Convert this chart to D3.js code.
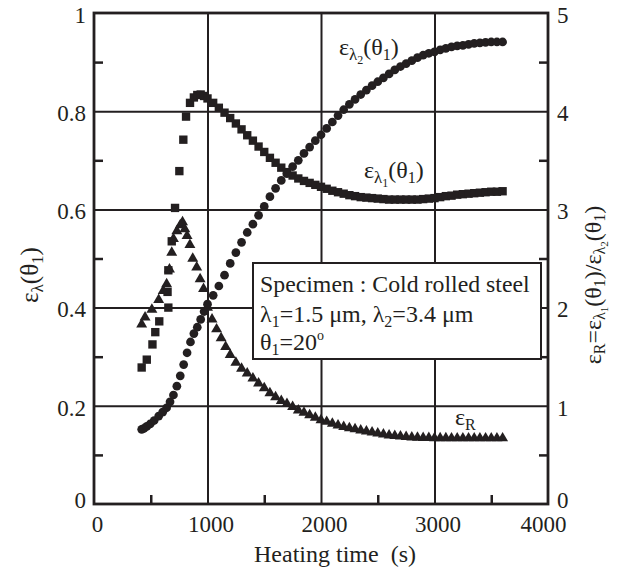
<!DOCTYPE html>
<html><head><meta charset="utf-8">
<script src="https://cdn.jsdelivr.net/npm/d3@7"></script>
<style>body{margin:0;background:#fff}svg{display:block}</style>
</head><body>
<svg id="c" width="617" height="574"></svg>
<script>
// ---- data ----
const xTicks = [0, 1000, 2000, 3000, 4000];
const leftTicks = [0, 0.2, 0.4, 0.6, 0.8, 1];
const leftTickLabels = ["0", "0.2", "0.4", "0.6", "0.8", "1"];
const rightTicks = [0, 1, 2, 3, 4, 5];
// eps_lambda1(theta1), squares, left axis
const sqT = [420,465,515,540,575,655,648,655,685,714,752,787,811,846,880,910,940,970,1000,
 1050,1100,1150,1200,1250,1300,1350,1400,1450,1500,1550,1600,1650,1700,1750,1800,1850,1900,1950,2000,
 2050,2100,2150,2200,2250,2300,2350,2400,2450,2500,2550,2600,2650,2700,2750,2800,2850,2900,2950,3000,
 3050,3100,3150,3200,3250,3300,3350,3400,3450,3500,3550,3600];
const sqV = [0.278,0.294,0.325,0.350,0.372,0.400,0.432,0.476,0.535,0.603,0.678,0.742,0.789,0.817,0.828,0.833,0.834,0.831,0.826,
 0.817,0.807,0.797,0.786,0.775,0.763,0.751,0.740,0.728,0.717,0.705,0.695,0.685,0.676,0.669,0.663,0.658,0.654,0.650,0.646,
 0.642,0.638,0.635,0.632,0.629,0.627,0.625,0.624,0.623,0.622,0.621,0.620,0.620,0.620,0.620,0.620,0.620,0.621,0.622,0.623,
 0.625,0.627,0.628,0.630,0.631,0.632,0.633,0.634,0.635,0.636,0.636,0.637];
// eps_lambda2(theta1), circles, left axis
const ciT = [420,440,465,495,530,570,605,640,670,700,730,760,790,820,850,880,910,940,970,1000,
 1050,1100,1150,1200,1250,1300,1350,1400,1450,1500,1550,1600,1650,1700,1750,1800,1850,1900,1950,2000,
 2050,2100,2150,2200,2250,2300,2350,2400,2450,2500,2550,2600,2650,2700,2750,2800,2850,2900,2950,3000,
 3050,3100,3150,3200,3250,3300,3350,3400,3450,3500,3550,3600];
const ciV = [0.152,0.154,0.158,0.163,0.170,0.179,0.187,0.196,0.208,0.222,0.240,0.261,0.284,0.308,0.330,0.347,0.360,0.376,0.392,0.407,
 0.425,0.444,0.466,0.490,0.512,0.533,0.553,0.570,0.588,0.606,0.626,0.643,0.659,0.673,0.687,0.700,0.714,0.727,0.740,0.752,
 0.765,0.778,0.791,0.803,0.814,0.824,0.834,0.843,0.852,0.860,0.868,0.876,0.884,0.891,0.897,0.903,0.909,0.914,0.918,0.921,
 0.925,0.928,0.931,0.933,0.934,0.936,0.938,0.939,0.940,0.941,0.941,0.941];
// eps_R, triangles, right axis
const trT = [420,450,510,570,610,640,665,685,700,730,760,780,800,820,845,870,905,935,965,1000,
 1040,1080,1120,1160,1200,
 1250,1300,1350,1400,1450,1500,1550,1600,1650,1700,1750,1800,1850,1900,1950,2000,
 2050,2100,2150,2200,2250,2300,2350,2400,2450,2500,2550,2600,2650,2700,2750,2800,2850,2900,2950,3000,
 3050,3100,3150,3200,3250,3300,3350,3400,3450,3500,3550,3600];
const trV = [1.83,1.90,1.98,2.08,2.17,2.24,2.39,2.56,2.70,2.78,2.84,2.87,2.80,2.73,2.64,2.50,2.41,2.29,2.19,2.00,
 1.88,1.78,1.69,1.60,1.52,
 1.44,1.38,1.33,1.28,1.23,1.18,1.13,1.09,1.05,1.02,0.99,0.955,0.93,0.905,0.88,0.855,
 0.838,0.82,0.80,0.785,0.773,0.762,0.75,0.74,0.73,0.72,0.71,0.70,0.695,0.69,0.685,0.68,0.677,0.675,0.673,0.672,
 0.671,0.671,0.670,0.670,0.670,0.670,0.670,0.670,0.670,0.670,0.670,0.670];

// ---- drawing ----
const INK = "#231f20";
const FONT = '"Liberation Serif"';
const svg = d3.select("#c");
const L = 94, R = 548, T = 13, B = 504;
const x = d3.scaleLinear([0, 4000], [L, R]);
const yL = d3.scaleLinear([0, 1], [B, T]);
const yR = d3.scaleLinear([0, 5], [B, T]);

// gridlines
const grid = svg.append("g");
grid.append("g").attr("transform", `translate(0,${B})`)
  .call(d3.axisBottom(x).tickValues([1000, 2000, 3000]).tickSize(-(B - T)).tickFormat(""));
grid.append("g").attr("transform", `translate(${L},0)`)
  .call(d3.axisLeft(yL).tickValues([0.2, 0.4, 0.6, 0.8]).tickSize(-(R - L)).tickFormat(""));
grid.selectAll(".domain").remove();
grid.selectAll("line").attr("stroke", INK).attr("stroke-width", 2);

// minor inward ticks
const minor = svg.append("g");
minor.append("g").attr("transform", `translate(0,${B})`)
  .call(d3.axisBottom(x).tickValues([500, 1500, 2500, 3500]).tickSize(-9).tickFormat(""));
minor.append("g").attr("transform", `translate(${L},0)`)
  .call(d3.axisLeft(yL).tickValues([0.1, 0.3, 0.5, 0.7, 0.9]).tickSize(-9).tickFormat(""));
minor.append("g").attr("transform", `translate(${R},0)`)
  .call(d3.axisRight(yR).tickValues([0.5, 1.5, 2.5, 3.5, 4.5]).tickSize(-9).tickFormat(""));
minor.selectAll(".domain").remove();
minor.selectAll("line").attr("stroke", INK).attr("stroke-width", 2.5);

// tick labels via axes
const FS = 23;
const ax = svg.append("g").attr("transform", `translate(3,${B})`)
  .call(d3.axisBottom(x).tickValues(xTicks).tickSize(0).tickPadding(12).tickFormat(d3.format("d")));
const ayl = svg.append("g").attr("transform", `translate(${L - 8},0)`)
  .call(d3.axisLeft(yL).tickValues(leftTicks).tickSize(0).tickPadding(0).tickFormat((d, i) => leftTickLabels[i]));
const ayr = svg.append("g").attr("transform", `translate(${R + 9},0)`)
  .call(d3.axisRight(yR).tickValues(rightTicks).tickSize(0).tickPadding(0).tickFormat(d3.format("d")));
[ax, ayl, ayr].forEach(g => {
  g.attr("font-family", null).attr("font-size", null);
  g.select(".domain").remove();
  g.selectAll("text").attr("font-family", FONT).attr("font-size", FS).attr("fill", INK);
});
ax.selectAll("text").attr("dx", d => d === 4000 ? -8 : 0);
ayl.selectAll("text").attr("dy", d => d === 0 ? "0.15em" : "0.4em");
ayr.selectAll("text").attr("dy", d => d === 0 ? "0.15em" : "0.4em");

// data markers
const markers = svg.append("g").attr("fill", INK);
const sq = d3.symbol(d3.symbolSquare, 70);
const ci = d3.symbol(d3.symbolCircle, 60);
const tr = d3.symbol(d3.symbolTriangle, 52);
markers.selectAll(".sq").data(sqT.map((t, i) => [t, sqV[i]])).join("path")
  .attr("d", sq).attr("transform", d => `translate(${x(d[0])},${yL(d[1])})`);
markers.selectAll(".ci").data(ciT.map((t, i) => [t, ciV[i]])).join("path")
  .attr("d", ci).attr("transform", d => `translate(${x(d[0])},${yL(d[1])})`);
markers.selectAll(".tr").data(trT.map((t, i) => [t, trV[i]])).join("path")
  .attr("d", tr).attr("transform", d => `translate(${x(d[0])},${yR(d[1])})`);

// frame
svg.append("rect").attr("x", L).attr("y", T).attr("width", R - L).attr("height", B - T)
  .attr("fill", "none").attr("stroke", INK).attr("stroke-width", 2.8);

// rich text helper: parts [text, size, offset]
function rich(g, parts) {
  const t = g.append("text").attr("font-family", FONT).attr("fill", INK);
  let cur = 0;
  parts.forEach(([s, size, off]) => {
    t.append("tspan").text(s).attr("font-family", FONT).attr("font-size", size).attr("dy", off - cur);
    cur = off;
  });
  return t;
}

// legend box
const lg = svg.append("g");
lg.append("rect").attr("x", 253).attr("y", 263).attr("width", 288).attr("height", 96)
  .attr("fill", "#fff").attr("stroke", INK).attr("stroke-width", 2);
rich(lg.append("g").attr("transform", "translate(260,292)"), [["Specimen : Cold rolled steel", 23.8, 0]]);
rich(lg.append("g").attr("transform", "translate(260,322)"),
  [["λ", 24, 0], ["1", 16, 5], ["=1.5 μm, λ", 24, 0], ["2", 16, 5], ["=3.4 μm", 24, 0]]);
rich(lg.append("g").attr("transform", "translate(260,350)"),
  [["θ", 24, 0], ["1", 16, 5], ["=20", 24, 0], ["o", 14, -10]]);

// curve annotations
rich(svg.append("g").attr("transform", "translate(339,55)"),
  [["ε", 24, 0], ["λ", 17, 5], ["2", 12, 9], ["(θ", 24, 0], ["1", 16, 5], [")", 24, 0]]);
rich(svg.append("g").attr("transform", "translate(364,178)"),
  [["ε", 24, 0], ["λ", 17, 5], ["1", 12, 9], ["(θ", 24, 0], ["1", 16, 5], [")", 24, 0]]);
rich(svg.append("g").attr("transform", "translate(455,425)"),
  [["ε", 24, 0], ["R", 16, 5]]);

// axis titles
svg.append("text").attr("x", 335).attr("y", 562).attr("text-anchor", "middle")
  .attr("font-size", 24).attr("font-family", FONT).attr("fill", INK)
  .style("white-space", "pre").text("Heating time  (s)");
rich(svg.append("g").attr("transform", "translate(38,275) rotate(-90)"),
  [["ε", 25, 0], ["λ", 17, 5], ["(θ", 25, 0], ["1", 17, 5], [")", 25, 0]])
  .attr("text-anchor", "middle");
rich(svg.append("g").attr("transform", "translate(601,285) rotate(-90)"),
  [["ε", 24, 0], ["R", 16, 4], ["=ε", 24, 0], ["λ", 16, 4], ["1", 11, 7], ["(θ", 24, 0], ["1", 16, 4],
   [")/ε", 24, 0], ["λ", 16, 4], ["2", 11, 7], ["(θ", 24, 0], ["1", 16, 4], [")", 24, 0]])
  .attr("text-anchor", "middle");
</script>
</body></html>
